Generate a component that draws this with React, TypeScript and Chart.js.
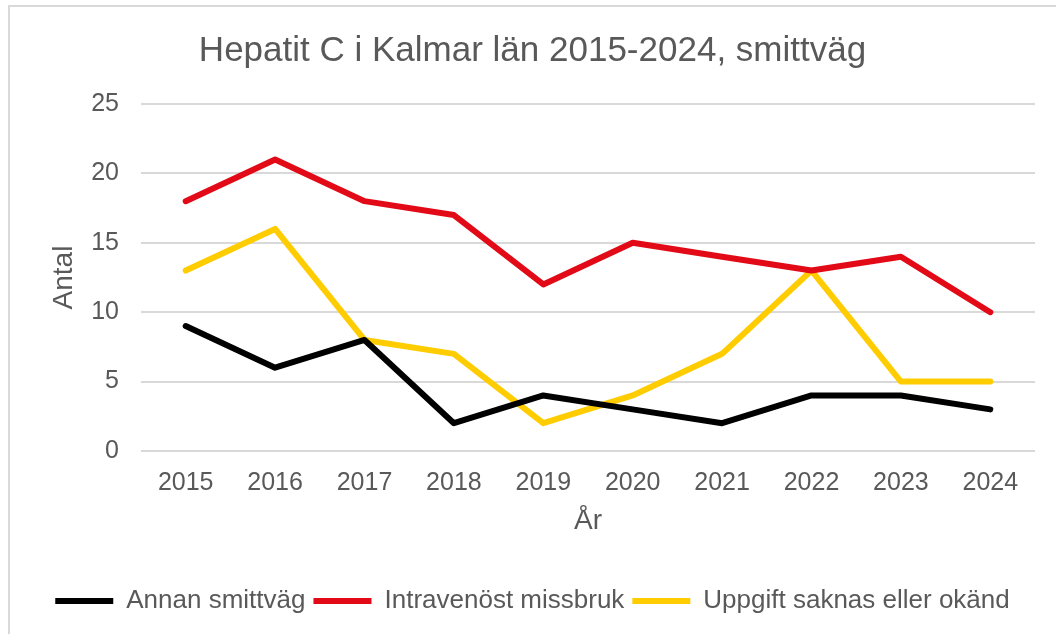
import React, { useEffect, useRef } from "react";
import { Chart, registerables } from "chart.js";

Chart.register(...registerables);

const categories = ["2015", "2016", "2017", "2018", "2019", "2020", "2021", "2022", "2023", "2024"];
const annanSmittvag = [9, 6, 8, 2, 4, 3, 2, 4, 4, 3];
const intravenostMissbruk = [18, 21, 18, 17, 12, 15, 14, 13, 14, 10];
const uppgiftSaknas = [13, 16, 8, 7, 2, 4, 7, 13, 5, 5];
const seriesNames = ["Annan smittväg", "Intravenöst missbruk", "Uppgift saknas eller okänd"];
const titleText = "Hepatit C i Kalmar län 2015-2024, smittväg";

const FONT = "'Liberation Sans', Arial, sans-serif";
const TEXT = "#595959";

export default function App() {
  const ref = useRef<HTMLCanvasElement | null>(null);
  useEffect(() => {
    if (!ref.current) return;
    const mk = (label: string, data: number[], color: string) => ({
      label,
      data,
      borderColor: color,
      backgroundColor: color,
      borderWidth: 6,
      pointRadius: 0,
      tension: 0,
      borderCapStyle: "round" as const,
      borderJoinStyle: "round" as const,
    });
    const chart = new Chart(ref.current, {
      type: "line",
      data: {
        labels: categories,
        datasets: [
          mk(seriesNames[0], annanSmittvag, "#000000"),
          mk(seriesNames[1], intravenostMissbruk, "#E20A17"),
          mk(seriesNames[2], uppgiftSaknas, "#FFCC00"),
        ],
      },
      options: {
        animation: false,
        responsive: false,
        maintainAspectRatio: false,
        layout: { padding: { left: 30, right: 21, top: 10, bottom: 10 } },
        plugins: {
          tooltip: { enabled: false },
          title: {
            display: true,
            text: titleText,
            color: TEXT,
            font: { family: FONT, size: 35, weight: "normal" },
            padding: { top: 20, bottom: 32 },
          },
          legend: {
            position: "bottom",
            labels: {
              usePointStyle: true,
              pointStyle: "line",
              pointStyleWidth: 58,
              boxHeight: 6,
              color: TEXT,
              padding: 8,
              font: { family: FONT, size: 26 },
            },
          },
        },
        scales: {
          x: {
            offset: true,
            grid: { display: false, drawTicks: false, offset: true },
            border: { display: false },
            ticks: { color: TEXT, font: { family: FONT, size: 25 }, padding: 17, maxRotation: 0, autoSkip: false },
            title: {
              display: true,
              text: "År",
              color: TEXT,
              font: { family: FONT, size: 28 },
              padding: { top: 0, bottom: 42 },
            },
            afterFit: (s: any) => {
              s.height = 129;
            },
          },
          y: {
            min: 0,
            max: 25,
            grid: { color: "#D9D9D9", lineWidth: 2, drawTicks: false },
            border: { display: false },
            ticks: { stepSize: 5, color: TEXT, font: { family: FONT, size: 25 }, padding: 22 },
            title: {
              display: true,
              text: "Antal",
              color: TEXT,
              font: { family: FONT, size: 28 },
              padding: { top: 17, bottom: 0 },
            },
            afterFit: (s: any) => {
              s.width = 111;
            },
          },
        },
      },
    });
    return () => chart.destroy();
  }, []);
  return (
    <div style={{ position: "fixed", left: 0, top: 0, width: 1056, height: 634, overflow: "hidden", background: "#fff" }}>
      <div
        style={{
          position: "absolute",
          left: 8,
          top: 5,
          width: 1200,
          height: 800,
          borderLeft: "2px solid #D9D9D9",
          borderTop: "2px solid #D9D9D9",
        }}
      />
      <canvas ref={ref} width={1056} height={634} style={{ position: "absolute", left: 0, top: 0 }} />
    </div>
  );
}
